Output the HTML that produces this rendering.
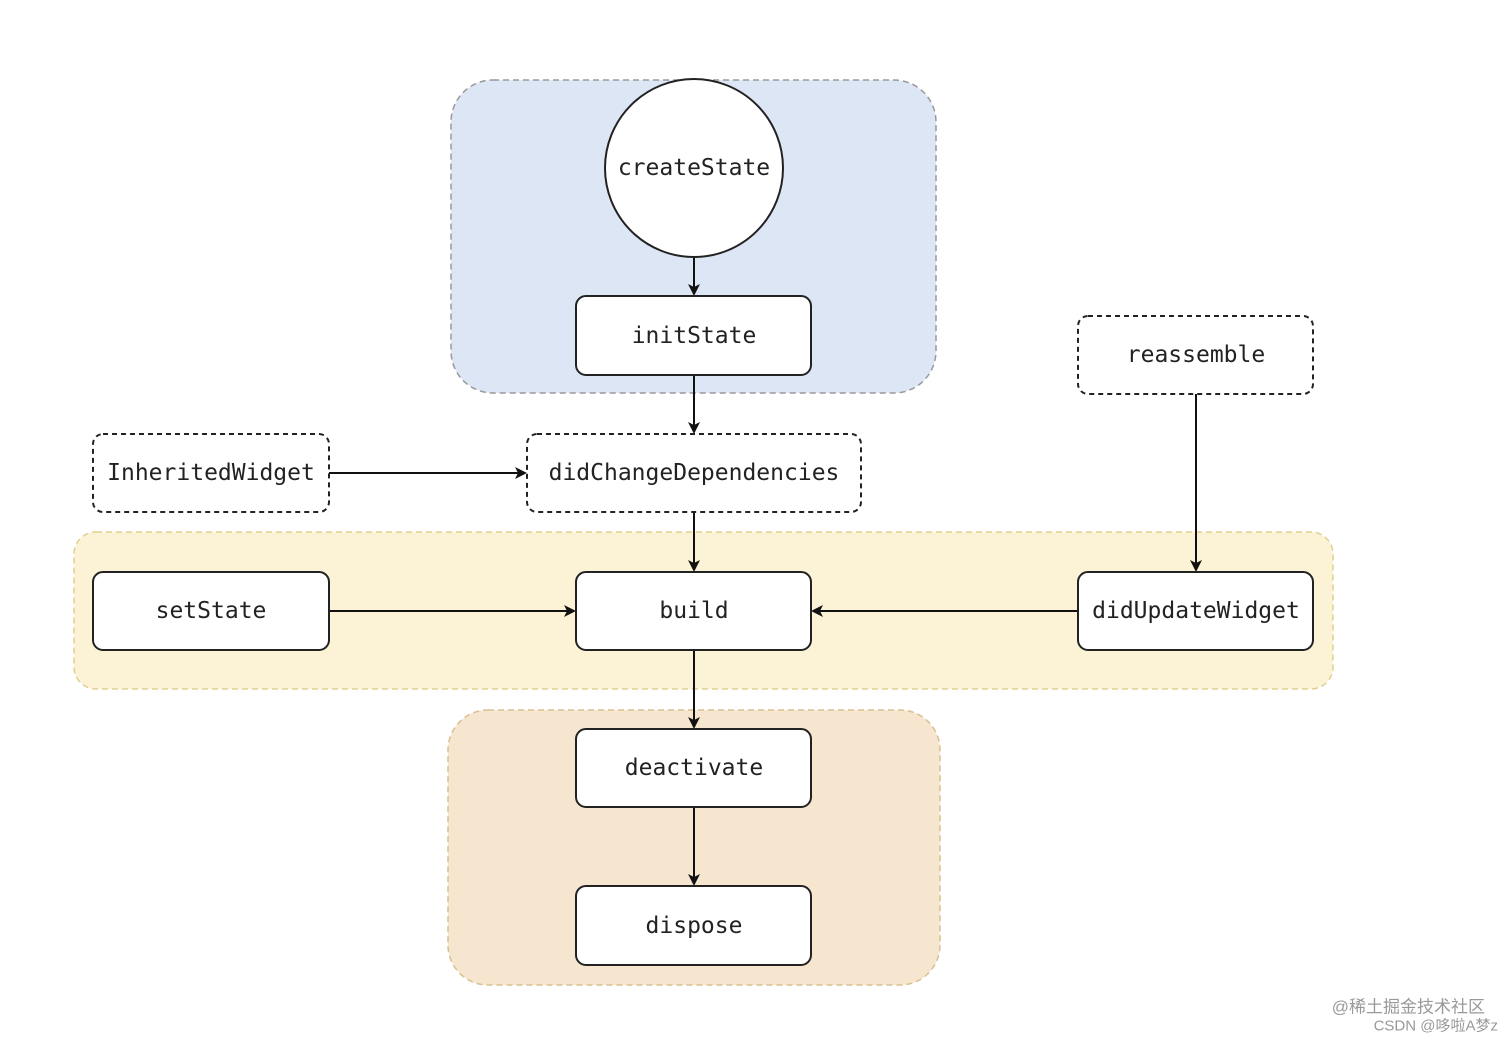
<!DOCTYPE html>
<html><head><meta charset="utf-8"><style>
html,body{margin:0;padding:0;background:#fff;}
svg text{font-family:"DejaVu Sans Mono","Liberation Mono",monospace;font-size:23px;fill:#222;text-anchor:middle;dominant-baseline:central;}
</style></head><body>
<svg width="1512" height="1045" viewBox="0 0 1512 1045" xmlns="http://www.w3.org/2000/svg">
<defs><marker id="a" markerWidth="12" markerHeight="12" refX="10" refY="6" orient="auto" markerUnits="userSpaceOnUse"><path d="M0,0 L12,6 L0,12 L3,6 Z" fill="#111"/></marker></defs>
<rect x="451" y="80" width="485" height="313" rx="42" fill="#dde6f4" stroke="#999" stroke-width="1.5" stroke-dasharray="6,4"/>
<rect x="74" y="532" width="1259" height="157" rx="22" fill="#fcf3d7" stroke="#e0d090" stroke-width="1.5" stroke-dasharray="6,4"/>
<rect x="448" y="710" width="492" height="275" rx="40" fill="#f6e6d0" stroke="#d8c090" stroke-width="1.5" stroke-dasharray="6,4"/>
<g stroke="#111" stroke-width="2" fill="none">
<line x1="694" y1="257" x2="694" y2="294" marker-end="url(#a)"/>
<line x1="694" y1="375" x2="694" y2="432" marker-end="url(#a)"/>
<line x1="329" y1="473" x2="525" y2="473" marker-end="url(#a)"/>
<line x1="694" y1="512" x2="694" y2="570" marker-end="url(#a)"/>
<line x1="1196" y1="394" x2="1196" y2="570" marker-end="url(#a)"/>
<line x1="329" y1="611" x2="574" y2="611" marker-end="url(#a)"/>
<line x1="1078" y1="611" x2="813" y2="611" marker-end="url(#a)"/>
<line x1="694" y1="650" x2="694" y2="727" marker-end="url(#a)"/>
<line x1="694" y1="807" x2="694" y2="884" marker-end="url(#a)"/>
</g>
<g stroke="#222" stroke-width="2" fill="#fff">
<circle cx="694" cy="168" r="89"/>
<rect x="576" y="296" width="235" height="79" rx="10"/>
<rect x="93" y="572" width="236" height="78" rx="10"/>
<rect x="576" y="572" width="235" height="78" rx="10"/>
<rect x="1078" y="572" width="235" height="78" rx="10"/>
<rect x="576" y="729" width="235" height="78" rx="10"/>
<rect x="576" y="886" width="235" height="79" rx="10"/>
</g>
<g stroke="#222" stroke-width="2" fill="#fff" stroke-dasharray="5,4">
<rect x="1078" y="316" width="235" height="78" rx="10"/>
<rect x="93" y="434" width="236" height="78" rx="10"/>
<rect x="527" y="434" width="334" height="78" rx="10"/>
</g>
<text x="694" y="168">createState</text>
<text x="694" y="336">initState</text>
<text x="1196" y="355">reassemble</text>
<text x="211" y="473">InheritedWidget</text>
<text x="694" y="473">didChangeDependencies</text>
<text x="211" y="611">setState</text>
<text x="694" y="611">build</text>
<text x="1196" y="611">didUpdateWidget</text>
<text x="694" y="768">deactivate</text>
<text x="694" y="926">dispose</text>
<text x="1485" y="1007" style="font-family:'Liberation Sans','Noto Sans CJK SC',sans-serif;font-size:17px;fill:#999;text-anchor:end">@稀土掘金技术社区</text>
<text x="1498" y="1026" style="font-family:'Liberation Sans','Noto Sans CJK SC',sans-serif;font-size:15px;fill:#999;text-anchor:end">CSDN @哆啦A梦z</text>
</svg>
</body></html>
